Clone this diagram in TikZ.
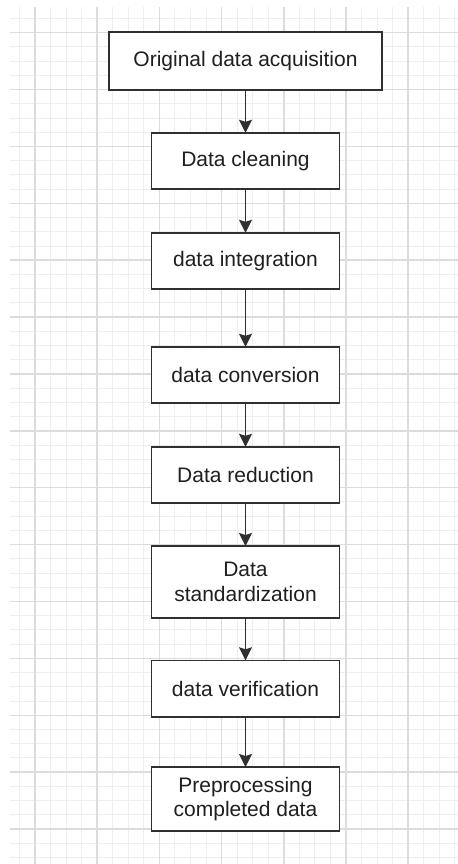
\documentclass[tikz,border=0pt]{standalone}
\usepackage{fontspec}
\setmainfont{Liberation Sans}
\usetikzlibrary{positioning,arrows.meta}
\definecolor{boxgray}{HTML}{303030}
\definecolor{minorgray}{HTML}{EEEEEE}
\definecolor{majorgray}{HTML}{DCDCDC}
\begin{document}
\begin{tikzpicture}[
    x=0.5pt, y=-0.5pt,
    node distance=50pt,
    >={Stealth[length=6.5pt, width=6.5pt, inset=1pt]},
    box/.style={rectangle, draw=boxgray, line width=0.8pt, fill=white, outer sep=0pt,
        minimum width=94pt, minimum height=28.2pt, align=center,
        font=\fontsize{10.5}{12.2}\selectfont, text=black!88},
    gridminor/.style={draw=minorgray, line width=0.5pt},
    gridmajor/.style={draw=majorgray, line width=0.75pt}
]
    \useasboundingbox (0,0) rectangle (458,864);
    \fill[white] (0,0) rectangle (458,864);

    % 背景网格
    \foreach \i in {0,...,28}
        \draw[gridminor] ({19.45+15.55*\i},7) -- ({19.45+15.55*\i},864);
    \foreach \j in {0,...,59}
        \draw[gridminor] (10,{18.5+14.22*\j}) -- (458,{18.5+14.22*\j});
    \foreach \i in {0,...,6}
        \draw[gridmajor] ({35+62.2*\i},7) -- ({35+62.2*\i},864);
    \foreach \j in {0,...,14}
        \draw[gridmajor] (10,{32.7+56.88*\j}) -- (458,{32.7+56.88*\j});

    % 流程节点
    \node[box, minimum width=136.5pt, minimum height=29pt] (acq) at (245.5,61) {Original data acquisition};
    \node[box] (clean) [below of=acq] {Data cleaning};
    \node[box] (integ) [below of=clean] {data integration};
    \node[box] (conv) [below of=integ, yshift=-7pt] {data conversion};
    \node[box] (reduce) [below of=conv] {Data reduction};
    \node[box, minimum height=36pt] (stand) [below of=reduce, yshift=-3.5pt] {Data\\standardization};
    \node[box] (verify) [below of=stand, yshift=-3.25pt] {data verification};
    \node[box, minimum height=32pt] (done) [below of=verify, yshift=-5.25pt] {Preprocessing\\completed data};

    % 连线
    \draw[->, thick, boxgray] (acq) -- (clean);
    \draw[->, thick, boxgray] (clean) -- (integ);
    \draw[->, thick, boxgray] (integ) -- (conv);
    \draw[->, thick, boxgray] (conv) -- (reduce);
    \draw[->, thick, boxgray] (reduce) -- (stand);
    \draw[->, thick, boxgray] (stand) -- (verify);
    \draw[->, thick, boxgray] (verify) -- (done);
\end{tikzpicture}
\end{document}
